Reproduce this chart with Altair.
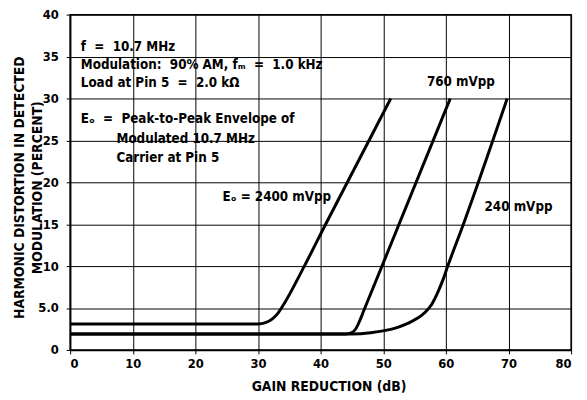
import altair as alt
import pandas as pd

FONT = "Liberation Sans Narrow, DejaVu Sans Condensed, Liberation Sans, sans-serif"
NB = "\u00a0"

# Curve data (gain reduction dB -> harmonic distortion %)
gain_2400 = [0, 30, 31.2, 32.3, 33.2, 34.0, 37.4, 40.8, 51.2]
dist_2400 = [3.1, 3.1, 3.25, 3.7, 4.4, 5.3, 10, 15, 30]
gain_760 = [0, 44.0, 44.9, 45.6, 46.2, 46.9, 49.8, 60.7]
dist_760 = [1.9, 1.9, 2.05, 2.5, 3.4, 4.7, 10, 30]
gain_240 = [0, 45, 48, 50.2, 52.3, 54.0, 55.5, 56.7, 57.7, 58.6, 59.5, 60.3, 62.8, 69.8]
dist_240 = [1.9, 1.9, 2.05, 2.3, 2.7, 3.2, 3.8, 4.5, 5.4, 6.7, 8.3, 10, 15, 30]

# Curve labels
curve_label_text = ["E\u2092 = 2400 mVpp", "760 mVpp", "240 mVpp"]
curve_label_gain = [33.0, 62.4, 71.6]
curve_label_dist = [18.2, 32.0, 17.0]

# Condition notes
note_text = [
    f"f {NB}={NB} 10.7 MHz",
    f"Modulation: {NB}90% AM, f\u2098 {NB}={NB} 1.0 kHz",
    f"Load at Pin 5 {NB}={NB} 2.0 k\u03a9",
    f"E\u2092 {NB}={NB} Peak-to-Peak Envelope of",
    "Modulated 10.7 MHz",
    "Carrier at Pin 5",
]
note_gain = [1.7, 1.7, 1.7, 1.7, 7.4, 7.4]
note_dist = [36.1, 34.0, 31.8, 27.5, 25.2, 22.9]

x_ticks = [0, 10, 20, 30, 40, 50, 60, 70, 80]
y_ticks = [0, 5, 10, 15, 20, 25, 30, 35, 40]

rows = []
for name, gs, ds in [("2400", gain_2400, dist_2400), ("760", gain_760, dist_760), ("240", gain_240, dist_240)]:
    for g, d in zip(gs, ds):
        rows.append({"series": name, "gain": g, "dist": d})
curves = pd.DataFrame(rows)
labels = pd.DataFrame({"text": curve_label_text, "gain": curve_label_gain, "dist": curve_label_dist})
notes = pd.DataFrame({"text": note_text, "gain": note_gain, "dist": note_dist})

xscale = alt.Scale(domain=[0, 80], nice=False, zero=False)
yscale = alt.Scale(domain=[0, 40], nice=False, zero=False)

xaxis = alt.Axis(
    values=x_ticks, title="GAIN REDUCTION (dB)", grid=True, gridColor="black", gridOpacity=1,
    gridWidth=1, domainColor="black", domainWidth=1.5, tickColor="black", tickSize=4,
    labelFont=FONT, labelFontSize=13, labelFontWeight="bold", labelColor="black", labelPadding=4,
    titleFont=FONT, titleFontSize=14, titleFontWeight="bold", titleColor="black",
    titleX=262, titleY=30, titleAlign="center", titleBaseline="top",
)
yaxis = alt.Axis(
    values=y_ticks, title=["HARMONIC DISTORTION IN DETECTED", "MODULATION (PERCENT)"],
    labelExpr="datum.value == 5 ? '5.0' : datum.label",
    grid=True, gridColor="black", gridOpacity=1, gridWidth=1, domainColor="black", domainWidth=1.5,
    tickColor="black", tickSize=4, labelFont=FONT, labelFontSize=13, labelFontWeight="bold",
    labelColor="black", labelPadding=8,
    titleFont=FONT, titleFontSize=14, titleFontWeight="bold", titleColor="black",
    titleX=-58, titleY=175, titleAngle=270, titleAlign="center", titleBaseline="top", titleLineHeight=18,
)

base_lines = alt.Chart(curves).mark_line(
    interpolate="monotone", strokeWidth=3, color="black"
).encode(
    x=alt.X("gain:Q", scale=xscale, axis=xaxis),
    y=alt.Y("dist:Q", scale=yscale, axis=yaxis),
    detail="series:N",
)

label_layer = alt.Chart(labels).mark_text(
    align="center", baseline="middle", font=FONT, fontSize=13.5, fontWeight="bold", color="black"
).encode(x=alt.X("gain:Q", scale=xscale), y=alt.Y("dist:Q", scale=yscale), text="text:N")

note_layer = alt.Chart(notes).mark_text(
    align="left", baseline="middle", font=FONT, fontSize=13.5, fontWeight="bold", color="black"
).encode(x=alt.X("gain:Q", scale=xscale), y=alt.Y("dist:Q", scale=yscale), text="text:N")

chart = alt.layer(base_lines, label_layer, note_layer).properties(
    width=508, height=340,
    padding={"left": 63, "top": 4, "right": 8, "bottom": 46},
    autosize=alt.AutoSizeParams(type="none"),
    background="white",
).configure_view(stroke="black", strokeWidth=1.5)

chart.save("out.html", embed_options={"renderer": "svg", "actions": False})
